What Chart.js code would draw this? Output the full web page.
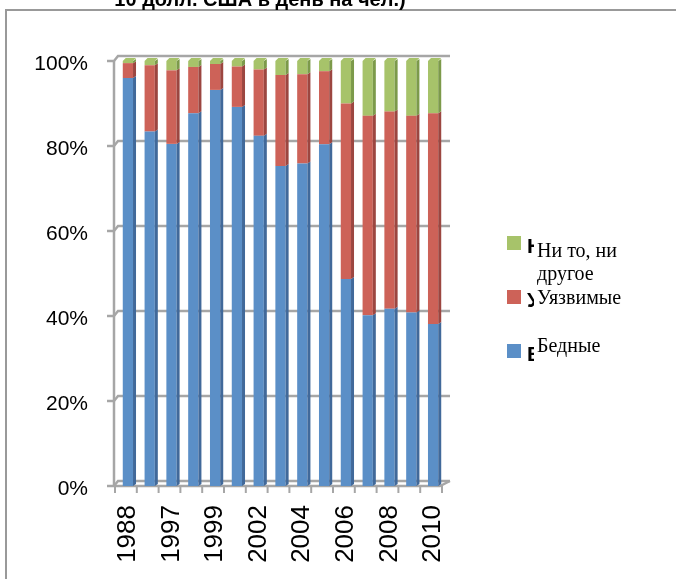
<!DOCTYPE html>
<html>
<head>
<meta charset="utf-8">
<script src="https://cdn.jsdelivr.net/npm/chart.js@4.4.1/dist/chart.umd.min.js"></script>
<style>
  html, body { margin: 0; padding: 0; background: #fff; overflow: hidden; }
  #frame { position: absolute; left: 5px; top: 9px; width: 720px; height: 620px; border: 2px solid #999; }
  #wrap { position: absolute; left: 0; top: 0; width: 676px; height: 579px; }
</style>
</head>
<body>
<div id="frame"></div>
<div id="wrap"><canvas id="povertyChart"></canvas></div>
<script>
// Years on the category axis (only every second one gets a label)
const years = ['1988', '1995', '1997', '1998', '1999', '2000', '2002', '2003', '2004', '2005', '2006', '2007', '2008', '2009', '2010'];

// Shares of the population, %
const poor       = [96.0, 83.4, 80.5, 87.7, 93.2, 89.2, 82.4, 75.3, 75.9, 80.4, 48.7, 40.2, 41.7, 40.8, 38.1];
const vulnerable = [ 3.5, 15.6, 17.3, 10.9,  6.1,  9.5, 15.6, 21.4, 21.0, 17.2, 41.3, 46.9, 46.4, 46.3, 49.6];
const neither    = [ 0.5,  1.0,  2.2,  1.4,  0.7,  1.3,  2.0,  3.3,  3.1,  2.4, 10.0, 12.9, 11.9, 12.9, 12.3];

const yTicks = [0, 20, 40, 60, 80, 100];

const titleText = '10 долл. США в день на чел.)';

// front colour / darker side colour per series
const seriesStyle = [
  { label: 'Бедные', front: '#5b8fc7', side: '#41699a', stub: 'Б' },
  { label: 'Уязвимые', front: '#cd6258', side: '#9c4640', stub: 'У' },
  { label: 'Ни то, ни другое', front: '#a7c36a', side: '#7c9a4a', stub: 'Н' }
];

// pseudo-3D walls: back grid lines, left axis, floor and x ticks
const wallPlugin = {
  id: 'wall3d',
  beforeDatasetsDraw(chart) {
    const { ctx, chartArea: a, scales: { x, y } } = chart;
    const fx = a.left - 3;
    ctx.save();
    ctx.strokeStyle = '#a6a6a6';
    ctx.lineWidth = 2.5;
    yTicks.forEach(v => {
      const py = y.getPixelForValue(v);
      ctx.beginPath();
      ctx.moveTo(fx - 7, py);
      ctx.lineTo(fx, py);
      ctx.lineTo(fx + 4, py - 5);
      ctx.lineTo(a.right + 6, py - 5);
      ctx.stroke();
    });
    // left axis
    ctx.beginPath();
    ctx.moveTo(fx, y.getPixelForValue(100));
    ctx.lineTo(fx, y.getPixelForValue(0));
    ctx.stroke();
    // floor front edge
    const by = y.getPixelForValue(0);
    ctx.beginPath();
    ctx.moveTo(fx, by);
    ctx.lineTo(a.right - 4, by);
    ctx.lineTo(a.right + 6, by - 5);
    ctx.stroke();
    // category ticks
    const half = (x.getPixelForValue(1) - x.getPixelForValue(0)) / 2;
    ctx.lineWidth = 2;
    for (let i = 0; i <= years.length; i++) {
      const px = x.getPixelForValue(i) - half - 2;
      ctx.beginPath();
      ctx.moveTo(px, by);
      ctx.lineTo(px, by + 7);
      ctx.stroke();
    }
    ctx.restore();
  },
  afterDatasetsDraw(chart) {
    const { ctx } = chart;
    ctx.save();
    chart.data.datasets.forEach((ds, di) => {
      const meta = chart.getDatasetMeta(di);
      meta.data.forEach(bar => {
        const r = bar.x + bar.width / 2;
        const l = bar.x - bar.width / 2;
        // side face
        ctx.fillStyle = seriesStyle[di].side;
        ctx.beginPath();
        ctx.moveTo(r, bar.y);
        ctx.lineTo(r + 3, bar.y - 2);
        ctx.lineTo(r + 3, bar.base - 2);
        ctx.lineTo(r, bar.base);
        ctx.closePath();
        ctx.fill();
        // top face on the last segment
        if (di === chart.data.datasets.length - 1) {
          ctx.fillStyle = seriesStyle[di].front;
          ctx.beginPath();
          ctx.moveTo(l, bar.y);
          ctx.lineTo(l + 3, bar.y - 3);
          ctx.lineTo(r + 3, bar.y - 3);
          ctx.lineTo(r, bar.y);
          ctx.closePath();
          ctx.fill();
        }
      });
    });
    ctx.restore();
  }
};

// title (partly cut off at the top) and the legend on the right
const textPlugin = {
  id: 'texts',
  afterDraw(chart) {
    const { ctx } = chart;
    ctx.save();
    ctx.fillStyle = '#000';
    ctx.font = 'bold 20px "Liberation Sans", Arial, sans-serif';
    ctx.textAlign = 'center';
    ctx.textBaseline = 'alphabetic';
    ctx.fillText(titleText, 260, 6);

    const items = [
      { s: seriesStyle[2], boxY: 236, lines: ['Ни то, ни', 'другое'], base: 257 },
      { s: seriesStyle[1], boxY: 290, lines: ['Уязвимые'], base: 304 },
      { s: seriesStyle[0], boxY: 344, lines: ['Бедные'], base: 352 }
    ];
    items.forEach(it => {
      ctx.fillStyle = it.s.front;
      ctx.fillRect(507, it.boxY, 14, 14);
      // clipped leftover glyph next to the box
      ctx.save();
      ctx.beginPath();
      ctx.rect(527, it.boxY - 2, 7, 22);
      ctx.clip();
      ctx.fillStyle = '#000';
      ctx.font = 'bold 21px "Liberation Sans", Arial, sans-serif';
      ctx.textAlign = 'left';
      ctx.fillText(it.s.stub, 527, it.boxY + 17);
      ctx.restore();
      ctx.fillStyle = '#000';
      ctx.font = '20px "Liberation Serif", "Times New Roman", serif';
      ctx.textAlign = 'left';
      it.lines.forEach((t, k) => ctx.fillText(t, 537, it.base + k * 23));
    });
    ctx.restore();
  }
};

const ctx = document.getElementById('povertyChart').getContext('2d');
new Chart(ctx, {
  type: 'bar',
  data: {
    labels: years,
    datasets: [poor, vulnerable, neither].map((d, i) => ({
      label: seriesStyle[i].label,
      data: d,
      backgroundColor: seriesStyle[i].front,
      borderWidth: 0,
      barPercentage: 0.47,
      categoryPercentage: 1
    }))
  },
  options: {
    responsive: true,
    maintainAspectRatio: false,
    animation: false,
    layout: { padding: { top: 61, right: 232, left: 0, bottom: 0 } },
    scales: {
      x: {
        stacked: true,
        grid: { display: false, drawTicks: false },
        border: { display: false },
        ticks: {
          autoSkip: false,
          minRotation: 90,
          maxRotation: 90,
          padding: 19,
          color: '#000',
          font: { family: '"Liberation Sans", Arial, sans-serif', size: 26 },
          callback: (v, i) => (i % 2 === 0 ? years[i] : '')
        },
        afterFit: s => { s.height = 93; }
      },
      y: {
        stacked: true,
        min: 0,
        max: 100,
        grid: { display: false, drawTicks: false },
        border: { display: false },
        ticks: {
          stepSize: 20,
          padding: 29,
          labelOffset: 3,
          color: '#000',
          font: { family: '"Liberation Sans", Arial, sans-serif', size: 21 },
          callback: v => v + '%'
        },
        afterFit: s => { s.width = 117; }
      }
    },
    plugins: {
      legend: { display: false },
      tooltip: { enabled: false }
    }
  },
  plugins: [wallPlugin, textPlugin]
});
</script>
</body>
</html>
